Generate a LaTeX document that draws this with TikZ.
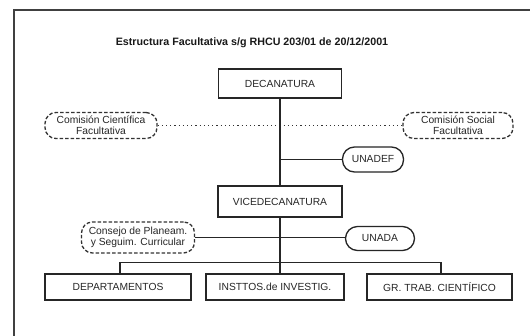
\documentclass[tikz,border=0pt]{standalone}
\usepackage{fontspec}
\setmainfont{Liberation Sans}
\begin{document}
\begin{tikzpicture}[x=1pt,y=-1pt,
  lbl/.style={font=\fontsize{10.3}{11.5}\selectfont, text=black!85},
  box/.style={lbl, draw=black!85, line width=1.3pt, inner sep=0pt, align=center},
  dbox/.style={lbl, draw=black!80, line width=1.3pt, dash pattern=on 3.5pt off 2pt, rounded corners=11pt, inner sep=0pt, align=center},
  pill/.style={lbl, draw=black!85, line width=1.3pt, rounded corners=12pt, inner sep=0pt, align=center},
  con/.style={draw=black!85, line width=1.4pt},
  dotline/.style={draw=black!80, line width=1.2pt, dash pattern=on 1.2pt off 3pt},
  frame/.style={draw=black!75, line width=1.2pt}]
\useasboundingbox (0,0) rectangle (530,335);
\fill[white] (0,0) rectangle (530,335);
\coordinate (fbl) at (14,336);
\coordinate (ftl) at (14,10);
\coordinate (ftr) at (531,10);
\draw[frame] (fbl) -- (ftl) -- (ftr);

\node[font=\bfseries\fontsize{10.7}{12}\selectfont, text=black!90] (title) at (252,43) {Estructura Facultativa s/g RHCU 203/01 de 20/12/2001};

\node[box, minimum width=123pt, minimum height=29pt] (dec) at (280,83.5) {DECANATURA};
\node[box, minimum width=124pt, minimum height=31pt] (vice) at (280,201.5) {VICEDECANATURA};

\node[dbox, minimum width=112pt, minimum height=26pt] (csci) at (101,125.5) {Comisión Científica\\Facultativa};
\node[dbox, minimum width=110pt, minimum height=26pt] (csoc) at (458,125.5) {Comisión Social\\Facultativa};

\node[pill, minimum width=61pt, minimum height=25pt] (unadef) at (373,159.5) {UNADEF};
\node[pill, minimum width=69pt, minimum height=24pt] (unada) at (380,238.5) {UNADA};

\node[dbox, minimum width=113pt, minimum height=31pt] (consejo) at (138,237.5) {Consejo de Planeam.\\y Seguim. Curricular};

\node[box, minimum width=146pt, minimum height=26pt] (dep) at (118,287) {DEPARTAMENTOS};
\node[box, minimum width=138pt, minimum height=26pt] (inst) at (275,287) {INSTTOS.de INVESTIG.};
\node[box, minimum width=145pt, minimum height=26pt] (gr) at (439.5,287) {GR. TRAB. CIENTÍFICO};

\path[dotline] (csci) -- (csoc);
\path[con] (dec.south) -- (vice.north);
\path[con] (dec.south |- unadef.west) -- (unadef.west);
\path[con] (consejo.east) -- (unada.west |- consejo.east);
\path[con] (vice.south) -- (vice.south |- inst.north);
\path[con] ([xshift=2pt]dep.north) -- ++(0,-11) -| ([xshift=1.5pt]gr.north);
\end{tikzpicture}
\end{document}
